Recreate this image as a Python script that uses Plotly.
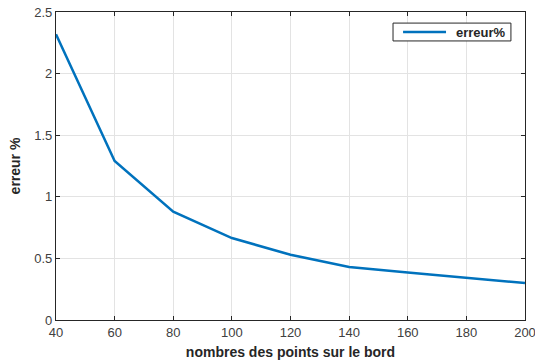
import plotly.graph_objects as go

# Erreur relative en fonction du nombre de points sur le bord
points_bord = [40, 60, 80, 100, 120, 140, 160, 180, 200]
erreur_pct = [2.32, 1.29, 0.88, 0.665, 0.53, 0.43, 0.385, 0.345, 0.30]

x_ticks = [40, 60, 80, 100, 120, 140, 160, 180, 200]
y_ticks = [0, 0.5, 1, 1.5, 2, 2.5]
y_tick_text = ["0", "0.5", "1", "1.5", "2", "2.5"]

series_name = "erreur%"
line_color = "#0072BD"

fig = go.Figure()
fig.add_trace(go.Scatter(
    x=points_bord, y=erreur_pct, mode="lines", name=series_name,
    line=dict(color=line_color, width=2.5), showlegend=False,
))

axis_common = dict(
    showline=True, linecolor="#262626", linewidth=1.2, mirror="ticks",
    ticks="inside", ticklen=4, tickcolor="#262626",
    showgrid=True, gridcolor="#E3E3E3", gridwidth=1, zeroline=False,
    automargin=False, ticklabeloverflow="allow",
    tickfont=dict(family="Liberation Sans, Arial, sans-serif", size=13, color="#404040"),
)

# Compact boxed legend in the upper-right corner (paper coordinates)
box = dict(x0=0.7186, x1=0.970, y0=0.906, y1=0.964)
legend_y = 0.935
shapes = [
    dict(type="rect", xref="paper", yref="paper", **box,
         line=dict(color="#262626", width=1), fillcolor="white", layer="above"),
    dict(type="line", xref="paper", yref="paper", x0=0.740, x1=0.8316,
         y0=legend_y, y1=legend_y, line=dict(color=line_color, width=2.5), layer="above"),
]
annotations = [
    dict(text=f"<b>{series_name}</b>", xref="paper", yref="paper", x=0.849, y=legend_y,
         xanchor="left", yanchor="middle", showarrow=False,
         font=dict(size=13, color="#262626", family="Liberation Sans, Arial, sans-serif")),
]

fig.update_layout(
    width=535, height=363,
    margin=dict(l=56, r=10, t=12, b=43),
    paper_bgcolor="white", plot_bgcolor="white",
    font=dict(family="Liberation Sans, Arial, sans-serif", color="#262626"),
    xaxis=dict(
        range=[40, 200], tickvals=x_ticks,
        title=dict(text="<b>nombres des points sur le bord</b>", font=dict(size=14), standoff=8),
        **axis_common,
    ),
    yaxis=dict(
        range=[0, 2.5], tickvals=y_ticks, ticktext=y_tick_text,
        title=dict(text="<b>erreur %</b>", font=dict(size=14), standoff=10),
        **axis_common,
    ),
    shapes=shapes,
    annotations=annotations,
    showlegend=False,
)

fig.write_html("out.html")
